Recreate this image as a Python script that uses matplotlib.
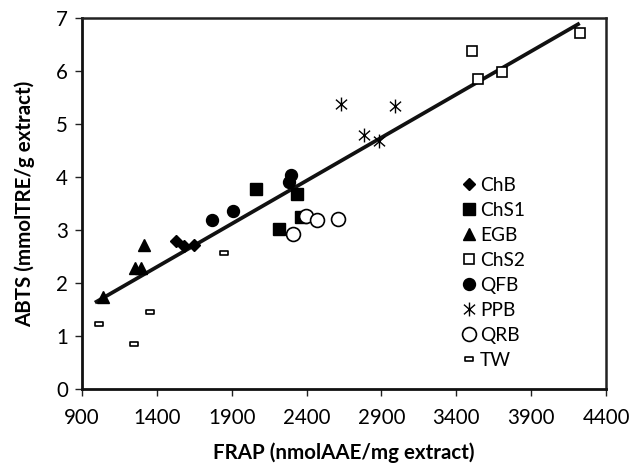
import matplotlib
matplotlib.use("Agg")
import matplotlib.pyplot as plt
from matplotlib.path import Path
import numpy as np

plt.rcParams['font.family'] = ['Lato', 'DejaVu Sans']

# ---- data (FRAP x, ABTS y) ----
chb_x = [1527, 1581, 1650]
chb_y = [2.80, 2.70, 2.72]
chs1_x = [2060, 2337, 2362, 2218]
chs1_y = [3.77, 3.68, 3.24, 3.02]
egb_x = [1314, 1254, 1294, 1042]
egb_y = [2.72, 2.29, 2.28, 1.74]
chs2_x = [3508, 3546, 3702, 4225]
chs2_y = [6.38, 5.84, 5.98, 6.72]
qfb_x = [1768, 1906, 2295, 2282]
qfb_y = [3.18, 3.36, 4.04, 3.91]
ppb_x = [2990, 2783, 2885, 2629]
ppb_y = [5.33, 4.79, 4.67, 5.37]
qrb_x = [2395, 2473, 2611, 2311]
qrb_y = [3.26, 3.18, 3.21, 2.92]
tw_x = [1016, 1247, 1356, 1850]
tw_y = [1.23, 0.85, 1.45, 2.56]

trend_x = [987, 4224]
trend_slope = 0.001628
trend_intercept = 0.023

x_ticks = [900, 1400, 1900, 2400, 2900, 3400, 3900, 4400]
y_ticks = [0, 1, 2, 3, 4, 5, 6, 7]

fig = plt.figure(figsize=(6.3, 4.67), dpi=100)
ax = fig.add_axes([0.130, 0.167, 0.832, 0.7945])

star = Path([(0, -1), (0, 1), (-0.8, -0.7), (0.8, 0.7), (-0.8, 0.7), (0.8, -0.7)],
            [Path.MOVETO, Path.LINETO, Path.MOVETO, Path.LINETO, Path.MOVETO, Path.LINETO])
rect = Path([(-1, -0.42), (1, -0.42), (1, 0.42), (-1, 0.42), (-1, -0.42)],
            [Path.MOVETO, Path.LINETO, Path.LINETO, Path.LINETO, Path.CLOSEPOLY])

tx = np.array(trend_x, dtype=float)
ax.plot(tx, trend_slope * tx + trend_intercept, color='#111111', lw=2.7, zorder=3,
        solid_capstyle='butt')

k = 'black'
ax.plot(chb_x, chb_y, ls='none', marker='D', ms=6.5, mfc=k, mec=k, label='ChB', zorder=4)
ax.plot(chs1_x, chs1_y, ls='none', marker='s', ms=8.2, mfc=k, mec=k, label='ChS1', zorder=4)
ax.plot(egb_x, egb_y, ls='none', marker='^', ms=8.5, mfc=k, mec=k, label='EGB', zorder=4)
ax.plot(chs2_x, chs2_y, ls='none', marker='s', ms=7.8, mfc='white', mec=k, mew=1.2, label='ChS2', zorder=4)
ax.plot(qfb_x, qfb_y, ls='none', marker='o', ms=8.6, mfc=k, mec=k, label='QFB', zorder=4)
ax.plot(ppb_x, ppb_y, ls='none', marker=star, ms=10, mfc='none', mec=k, mew=1.0, label='PPB', zorder=4)
ax.plot(qrb_x, qrb_y, ls='none', marker='o', ms=10, mfc='white', mec=k, mew=1.2, label='QRB', zorder=4)
ax.plot(tw_x, tw_y, ls='none', marker=rect, ms=6, mfc='white', mec=k, mew=1.2, label='TW', zorder=4)

ax.set_xlim(900, 4400)
ax.set_ylim(0, 7)
ax.set_xticks(x_ticks)
ax.set_yticks(y_ticks)
ax.tick_params(axis='both', direction='out', length=5, width=1.0, labelsize=14.8, color='#222222')
ax.tick_params(axis='x', pad=9)
ax.tick_params(axis='y', pad=5)
for s in ['left', 'bottom']:
    ax.spines[s].set_linewidth(2.0)
    ax.spines[s].set_color('#111111')
for s in ['top', 'right']:
    ax.spines[s].set_linewidth(1.8)
    ax.spines[s].set_color('#222222')

ax.set_xlabel('FRAP (nmolAAE/mg extract)', fontsize=14.8, fontweight='bold', labelpad=10)
ax.set_ylabel('ABTS (mmolTRE/g extract)', fontsize=14.8, fontweight='bold', labelpad=15)

leg = ax.legend(loc='upper left', bbox_to_anchor=(0.727, 0.572), frameon=False,
                fontsize=13.8, handlelength=0.6, handletextpad=0.3, labelspacing=0.42,
                borderpad=0, borderaxespad=0)

fig.savefig('out.png', dpi=100)
